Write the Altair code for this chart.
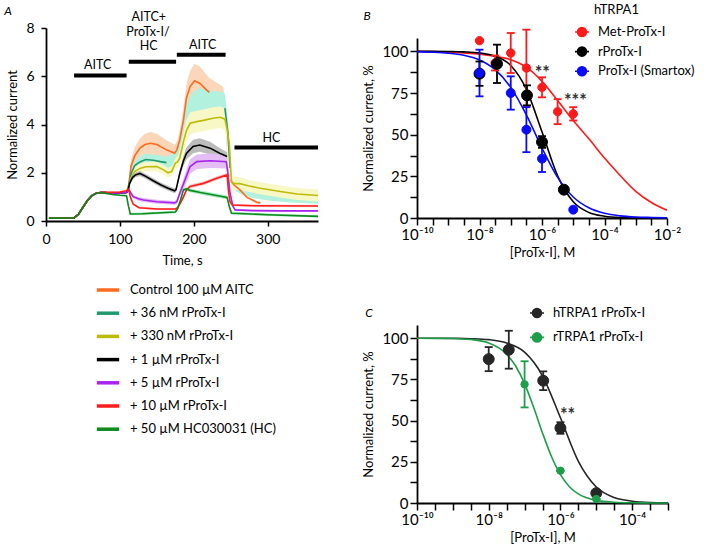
import altair as alt
import pandas as pd

FONT = "Lato"

# ---------------- Panel A : current traces ----------------
SERIES_A = ["Control 100 µM AITC", "+ 36 nM rProTx-I", "+ 330 nM rProTx-I", "+ 1 µM rProTx-I",
            "+ 5 µM rProTx-I", "+ 10 µM rProTx-I", "+ 50 µM HC030031 (HC)"]
LINE_COLORS_A = ["#ff6a1f", "#1f9a6c", "#bdbb0a", "#000000", "#a924ee", "#ff1c1c", "#0c8a1a"]
BAND_COLORS_A = ["#fbd6b8", "#b2f1de", "#f8f8c6", "#bcbcbc", "#e3bdf3", "#f9c9c9", "#a9ecca"]

T_CTRL = [4, 38, 44, 50, 56, 62, 68, 74, 80, 90, 100, 109, 112, 115, 120, 127, 134, 141, 150, 163, 174,
          177, 181, 186, 190, 195, 201, 208, 215, 221, 230, 240, 243, 246, 250, 254, 262, 272, 285, 290]
V_CTRL = [0.12, 0.13, 0.28, 0.57, 0.85, 1.05, 1.15, 1.18, 1.18, 1.15, 1.16, 1.2, 1.5, 2.26, 2.7, 3.02, 3.17,
          3.22, 3.17, 2.95, 2.81, 2.95, 3.36, 4.19, 5.09, 5.58, 5.81, 5.71, 5.5, 5.33, 5.2, 5.05, 4.2, 2.2,
          1.7, 1.5, 1.3, 0.98, 0.78, 0.75]
E_CTRL = [0.03, 0.03, 0.03, 0.03, 0.03, 0.03, 0.03, 0.03, 0.03, 0.03, 0.03, 0.03, 0.1, 0.3, 0.35, 0.4, 0.45,
          0.47, 0.45, 0.4, 0.35, 0.35, 0.4, 0.5, 0.6, 0.65, 0.7, 0.7, 0.65, 0.6, 0.55, 0.5, 0.4, 0.2, 0.05,
          0.05, 0.05, 0.05, 0.05, 0.05]

T_36 = [4, 38, 44, 50, 56, 62, 68, 74, 80, 90, 100, 109, 112, 115, 120, 127, 135, 145, 155, 163, 170, 175,
        178, 181, 186, 190, 195, 201, 207, 215, 225, 236, 242, 246, 249, 252, 256, 265, 280, 300, 330, 368]
V_36 = [0.12, 0.13, 0.28, 0.57, 0.85, 1.05, 1.15, 1.18, 1.18, 1.15, 1.16, 1.18, 1.45, 1.95, 2.3, 2.45, 2.55,
        2.52, 2.46, 2.42, 2.5, 2.6, 2.8, 3.3, 3.9, 4.3, 4.6, 4.75, 4.85, 4.8, 4.75, 4.72, 4.68, 3.7, 2.2, 1.6,
        1.45, 1.3, 1.15, 1.05, 0.97, 0.92]
E_36 = [0.03, 0.03, 0.03, 0.03, 0.03, 0.03, 0.03, 0.03, 0.03, 0.03, 0.03, 0.03, 0.05, 0.15, 0.2, 0.22, 0.25,
        0.25, 0.25, 0.25, 0.25, 0.25, 0.3, 0.4, 0.5, 0.55, 0.6, 0.65, 0.65, 0.65, 0.65, 0.65, 0.6, 0.5, 0.3,
        0.2, 0.2, 0.2, 0.2, 0.2, 0.2, 0.2]

T_330 = [4, 38, 44, 50, 56, 62, 68, 74, 80, 90, 100, 109, 112, 115, 120, 127, 135, 150, 159, 165, 170, 175,
         178, 181, 186, 190, 195, 204, 213, 226, 236, 242, 245, 248, 251, 255, 262, 275, 290, 317, 340, 368]
V_330 = [0.12, 0.13, 0.28, 0.57, 0.85, 1.05, 1.15, 1.18, 1.18, 1.15, 1.16, 1.18, 1.4, 1.8, 2.05, 2.18, 2.25,
         2.26, 2.12, 2.0, 2.05, 2.4, 2.45, 2.6, 3.3, 3.75, 4.05, 4.12, 4.17, 4.26, 4.3, 4.22, 3.8, 3.2, 1.6,
         1.55, 1.55, 1.45, 1.36, 1.22, 1.12, 1.06]
E_330 = [0.03, 0.03, 0.03, 0.03, 0.03, 0.03, 0.03, 0.03, 0.03, 0.03, 0.03, 0.03, 0.05, 0.12, 0.18, 0.2, 0.2,
         0.2, 0.2, 0.2, 0.2, 0.2, 0.25, 0.3, 0.4, 0.45, 0.45, 0.45, 0.45, 0.45, 0.45, 0.45, 0.45, 0.4, 0.3,
         0.28, 0.27, 0.25, 0.25, 0.25, 0.25, 0.25]

T_1 = [4, 38, 44, 50, 56, 62, 68, 74, 80, 90, 100, 109, 111, 113, 117, 121, 127, 135, 145, 155, 165, 174,
       176, 181, 186, 190, 199, 208, 222, 235, 245]
V_1 = [0.12, 0.13, 0.28, 0.57, 0.85, 1.05, 1.15, 1.18, 1.18, 1.15, 1.16, 1.18, 1.25, 1.55, 1.8, 1.91, 1.97,
       1.85, 1.67, 1.5, 1.36, 1.25, 1.3, 1.98, 2.5, 2.8, 3.09, 3.15, 3.02, 2.81, 2.67]
E_1 = [0.03, 0.03, 0.03, 0.03, 0.03, 0.03, 0.03, 0.03, 0.03, 0.03, 0.03, 0.03, 0.05, 0.08, 0.1, 0.1, 0.1,
       0.1, 0.1, 0.1, 0.1, 0.1, 0.1, 0.15, 0.2, 0.25, 0.28, 0.28, 0.26, 0.22, 0.18]

T_5 = [4, 38, 44, 50, 56, 62, 68, 74, 80, 90, 100, 109, 112, 115, 118, 125, 132, 150, 174, 177, 181, 188,
       195, 204, 222, 244, 246, 249, 253, 256, 280, 320, 368]
V_5 = [0.12, 0.13, 0.28, 0.57, 0.85, 1.05, 1.15, 1.18, 1.18, 1.15, 1.16, 1.18, 1.3, 1.15, 1.01, 0.92, 0.87,
       0.8, 0.75, 0.8, 1.15, 1.7, 2.26, 2.46, 2.5, 2.46, 2.0, 1.15, 0.6, 0.46, 0.43, 0.42, 0.42]
E_5 = [0.03, 0.03, 0.03, 0.03, 0.03, 0.03, 0.03, 0.03, 0.03, 0.03, 0.03, 0.03, 0.05, 0.06, 0.07, 0.08, 0.08,
       0.08, 0.08, 0.1, 0.15, 0.25, 0.3, 0.3, 0.3, 0.28, 0.2, 0.1, 0.05, 0.04, 0.04, 0.04, 0.04]

T_10 = [4, 38, 44, 50, 56, 62, 68, 74, 80, 90, 100, 109, 112, 114, 118, 126, 150, 175, 178, 182, 186, 190,
        195, 213, 231, 245, 247, 249, 252, 280, 368]
V_10 = [0.12, 0.13, 0.28, 0.57, 0.85, 1.05, 1.15, 1.18, 1.19, 1.19, 1.2, 1.25, 1.32, 1.0, 0.7, 0.55, 0.5,
        0.5, 0.55, 0.75, 1.0, 1.29, 1.43, 1.56, 1.77, 1.91, 1.2, 0.8, 0.66, 0.63, 0.62]
E_10 = [0.03, 0.03, 0.03, 0.03, 0.03, 0.03, 0.03, 0.03, 0.03, 0.03, 0.03, 0.03, 0.04, 0.04, 0.04, 0.04, 0.04,
        0.04, 0.05, 0.06, 0.08, 0.08, 0.08, 0.08, 0.08, 0.08, 0.05, 0.05, 0.05, 0.05, 0.05]

T_HC = [4, 38, 44, 50, 56, 62, 68, 74, 80, 90, 100, 109, 111, 114, 130, 150, 175, 178, 182, 186, 190, 195,
        209, 227, 245, 248, 251, 262, 300, 368]
V_HC = [0.12, 0.13, 0.28, 0.57, 0.85, 1.05, 1.15, 1.18, 1.15, 1.1, 1.07, 1.05, 0.7, 0.29, 0.3, 0.33, 0.37,
        0.5, 0.87, 1.29, 1.33, 1.27, 1.18, 1.08, 0.98, 0.6, 0.32, 0.31, 0.26, 0.19]
E_HC = [0.03, 0.03, 0.03, 0.03, 0.03, 0.03, 0.03, 0.03, 0.03, 0.03, 0.03, 0.03, 0.04, 0.05, 0.05, 0.05, 0.05,
        0.06, 0.07, 0.08, 0.08, 0.08, 0.08, 0.08, 0.08, 0.06, 0.05, 0.05, 0.05, 0.05]

TRACES = [(T_CTRL, V_CTRL, E_CTRL), (T_36, V_36, E_36), (T_330, V_330, E_330), (T_1, V_1, E_1),
          (T_5, V_5, E_5), (T_10, V_10, E_10), (T_HC, V_HC, E_HC)]
# time windows where the mean trace is not drawn (only the band shows)
HIDDEN_A = {0: [(222, 249), (291, 999)], 1: [(164, 236), (252, 999)]}

BAR_START = [38, 112, 177, 255]
BAR_END = [109, 176, 243, 368]
BAR_LEVEL = [6.03, 6.6, 6.89, 3.05]
LABEL_TEXT = ["AITC", "AITC+", "ProTx-I/", "HC", "AITC", "HC"]
LABEL_T = [70, 139, 138, 139, 212, 305]
LABEL_V = [6.47, 8.46, 7.85, 7.24, 7.3, 3.46]

# ---------------- Panel B : hTRPA1 dose-response ----------------
SERIES_B = ["Met-ProTx-I", "rProTx-I", "ProTx-I (Smartox)"]
COLORS_B = ["#ff1a1a", "#000000", "#0a0aff"]
MET_X = [-8, -7.5, -7, -6.5, -6, -5.5, -5]
MET_Y = [106.4, 93, 99, 90, 78.4, 63.8, 62.5]
MET_E = [0, 4.5, 12, 23, 6, 7.5, 4]
RPRO_X = [-8, -7.44, -6.48, -6, -5.3]
RPRO_Y = [86.6, 92.5, 73.6, 45.6, 17]
RPRO_E = [7.3, 11.5, 6, 3.5, 1.5]
SMART_X = [-8, -7, -6.5, -6, -5]
SMART_Y = [87, 75, 53, 35.6, 5]
SMART_E = [14, 10, 13.5, 8, 0]
FIT_X_B = [-10, -9.5, -9, -8.5, -8, -7.5, -7, -6.5, -6, -5.5, -5, -4.5, -4, -3.5, -3, -2.5, -2]
FIT_MET = [100, 99.8, 99.5, 99.0, 98.3, 97.0, 95.0, 90.5, 82.0, 70.5, 58.5, 47.5, 36.0, 25.5, 16.0, 9.3, 4.6]
FIT_RPRO = [100, 100, 99.9, 99.7, 99.1, 97.1, 91.5, 77.2, 51.7, 25.3, 9.7, 3.3, 1.1, 0.3, 0.1, 0.0, 0.0]
FIT_SMART = [99.8, 99.5, 98.9, 97.6, 94.8, 89.0, 78.4, 61.9, 42.0, 24.4, 12.6, 6.1, 2.8, 1.3, 0.6, 0.3, 0.1]
STAR_TEXT_B = ["**", "***"]
STAR_X_B = [-5.99, -4.93]
STAR_Y_B = [89.5, 72.5]

# ---------------- Panel C : human vs rat TRPA1 ----------------
SERIES_C = ["hTRPA1 rProTx-I", "rTRPA1 rProTx-I"]
COLORS_C = ["#262626", "#1f9e4a"]
H_X = [-8, -7.44, -6.48, -6, -5]
H_Y = [87.3, 93, 74.2, 45.5, 6]
H_E = [7.3, 11.5, 5.7, 3.5, 0]
RT_X = [-7, -6, -5]
RT_Y = [72, 19.6, 2.4]
RT_E = [14, 0, 0]
FIT_X_H = [-10, -9.5, -9, -8.5, -8, -7.5, -7, -6.5, -6, -5.5, -5, -4.5, -4, -3.5, -3]
FIT_H = [100, 100, 99.9, 99.7, 99.1, 97.1, 91.5, 77.2, 51.7, 25.3, 9.7, 3.3, 1.1, 0.3, 0.1]
FIT_X_RT = [-10, -9.5, -9, -8.5, -8, -7.5, -7.25, -7, -6.75, -6.5, -6.25, -6, -5.75, -5.5, -5, -4.5, -4,
            -3.5, -3]
FIT_RT = [100, 99.9, 99.8, 99.2, 97.1, 90.3, 83.1, 72.4, 58.2, 42.5, 28.2, 17.2, 9.9, 5.5, 1.6, 0.5, 0.15,
          0.04, 0.0]
STAR_TEXT_C = ["**"]
STAR_X_C = [-5.8]
STAR_Y_C = [55.9]

# ======================= build tables =======================
band_rows, line_rows = [], []
for i, (ts, vs, es) in enumerate(TRACES):
    name = SERIES_A[i]
    seg, was_hidden = 0, False
    for t, v, e in zip(ts, vs, es):
        band_rows.append({"series": name, "col": BAND_COLORS_A[i], "t": t, "lo": v - e, "hi": v + e})
        hidden = any(a <= t <= b for a, b in HIDDEN_A.get(i, []))
        if hidden:
            was_hidden = True
            continue
        if was_hidden:
            seg += 1
            was_hidden = False
        line_rows.append({"series": name, "t": t, "v": v, "seg": f"{i}-{seg}"})
band_df = pd.DataFrame(band_rows)
line_df = pd.DataFrame(line_rows)
bar_df = pd.DataFrame({"start": BAR_START, "end": BAR_END, "level": BAR_LEVEL})
lab_df = pd.DataFrame({"text": LABEL_TEXT, "t": LABEL_T, "v": LABEL_V})
one = pd.DataFrame({"k": [0]})


def pts(series, col, xs, ys, es):
    return pd.DataFrame({"series": series, "col": col, "x": xs, "y": ys,
                         "lo": [y - e for y, e in zip(ys, es)], "hi": [y + e for y, e in zip(ys, es)]})


def fit(series, col, xs, ys):
    return pd.DataFrame({"series": series, "col": col, "x": xs, "y": ys})


pts_b = pd.concat([pts(SERIES_B[0], COLORS_B[0], MET_X, MET_Y, MET_E),
                   pts(SERIES_B[1], COLORS_B[1], RPRO_X, RPRO_Y, RPRO_E),
                   pts(SERIES_B[2], COLORS_B[2], SMART_X, SMART_Y, SMART_E)], ignore_index=True)
fit_b = pd.concat([fit(SERIES_B[0], COLORS_B[0], FIT_X_B, FIT_MET),
                   fit(SERIES_B[1], COLORS_B[1], FIT_X_B, FIT_RPRO),
                   fit(SERIES_B[2], COLORS_B[2], FIT_X_B, FIT_SMART)], ignore_index=True)
stars_b = pd.DataFrame({"text": STAR_TEXT_B, "x": STAR_X_B, "y": STAR_Y_B})

pts_c = pd.concat([pts(SERIES_C[0], COLORS_C[0], H_X, H_Y, H_E),
                   pts(SERIES_C[1], COLORS_C[1], RT_X, RT_Y, RT_E)], ignore_index=True)
fit_c = pd.concat([fit(SERIES_C[0], COLORS_C[0], FIT_X_H, FIT_H),
                   fit(SERIES_C[1], COLORS_C[1], FIT_X_RT, FIT_RT)], ignore_index=True)
stars_c = pd.DataFrame({"text": STAR_TEXT_C, "x": STAR_X_C, "y": STAR_Y_C})

# ======================= Panel A =======================
AX_A_X = alt.Axis(values=[0, 100, 200, 300], title="Time, s", labelFontSize=14, titleFontSize=13,
                  tickSize=5, labelPadding=6, titlePadding=8, labelFlush=False, labelOverlap=False)
AX_A_Y = alt.Axis(values=[0, 2, 4, 6, 8], title="Normalized current", labelFontSize=14, titleFontSize=13,
                  tickSize=5, labelPadding=7, titlePadding=6, labelOverlap=False)
SC_AX = alt.Scale(domain=[0, 368], nice=False, zero=False)
SC_AY = alt.Scale(domain=[0, 8], nice=False)


def ax(f):
    return alt.X(f"{f}:Q", scale=SC_AX, axis=AX_A_X)


def ay(f):
    return alt.Y(f"{f}:Q", scale=SC_AY, axis=AX_A_Y)


legend_a = alt.Legend(orient="none", legendX=49, legendY=249, title=None, direction="vertical",
                      symbolType="stroke", symbolStrokeWidth=3.5, symbolSize=500, labelFontSize=13,
                      labelColor="black", labelOffset=9, rowPadding=3.2)

bands = alt.Chart(band_df).mark_area(opacity=1).encode(
    x=ax("t"), y=ay("lo"), y2="hi:Q", fill=alt.Fill("col:N", scale=None), detail="series:N")
lines = alt.Chart(line_df).mark_line(strokeWidth=1.6).encode(
    x=ax("t"), y=ay("v"),
    stroke=alt.Stroke("series:N", scale=alt.Scale(domain=SERIES_A, range=LINE_COLORS_A), legend=legend_a),
    detail="seg:N")
bars = alt.Chart(bar_df).mark_rule(strokeWidth=4, color="black").encode(
    x=ax("start"), x2="end:Q", y=ay("level"))
labels_a = alt.Chart(lab_df).mark_text(fontSize=12.5, color="black").encode(
    x=ax("t"), y=ay("v"), text="text:N")
letter_a = alt.Chart(one).mark_text(fontSize=12, fontStyle="italic", color="black").encode(
    x=alt.value(-38), y=alt.value(-17), text=alt.value("A"))
panel_a = alt.layer(bands, lines, bars, labels_a, letter_a).properties(width=272, height=193)

# ======================= Panels B & C =======================
SUP = {-10: "10\u207b\u00b9\u2070", -8: "10\u207b\u2078", -6: "10\u207b\u2076", -4: "10\u207b\u2074",
       -2: "10\u207b\u00b2"}
LABEL_EXPR = " : ".join(f"datum.value == {k} ? '{v}'" for k, v in SUP.items()) + " : ''"
LEG_PATH = "M-1,0L1,0M0.64,0A0.64,0.64,0,1,1,-0.64,0A0.64,0.64,0,1,1,0.64,0Z"


def dose_panel(pts_df, fit_df, stars_df, series, colors, xmax, width, height, sizes, legx, legy, rowpad,
               letter, letter_xy, extra=None):
    ticks = [-10 + 0.5 * i for i in range(int((xmax + 10) * 2) + 1)]
    axx = alt.Axis(values=ticks, labelExpr=LABEL_EXPR, title="[ProTx-I], M", labelFontSize=15,
                   titleFontSize=13, tickSize=7, labelPadding=2, titlePadding=4, labelFlush=False,
                   labelOverlap=False)
    axy = alt.Axis(values=[12.5 * i for i in range(9)], labelExpr="datum.value % 25 == 0 ? datum.label : ''",
                   title="Normalized current, %", labelFontSize=15, titleFontSize=13, tickSize=7,
                   labelPadding=2, titlePadding=6, labelOverlap=False)
    scx = alt.Scale(domain=[-10, xmax], nice=False, zero=False)
    scy = alt.Scale(domain=[0, 108], nice=False)

    def X(f):
        return alt.X(f"{f}:Q", scale=scx, axis=axx)

    def Y(f):
        return alt.Y(f"{f}:Q", scale=scy, axis=axy)

    csc = alt.Scale(domain=series, range=colors)
    leg = alt.Legend(orient="none", legendX=legx, legendY=legy, title=None, direction="vertical",
                     symbolType=LEG_PATH, symbolSize=196, symbolStrokeWidth=1.6, labelFontSize=13,
                     labelColor="black", labelOffset=8, rowPadding=rowpad)
    col = alt.Color("col:N", scale=None)
    layers = [
        alt.Chart(fit_df).mark_line(strokeWidth=1.6, interpolate="monotone").encode(
            x=X("x"), y=Y("y"), color=col, detail="series:N"),
        alt.Chart(pts_df).mark_rule(strokeWidth=1.8).encode(x=X("x"), y=Y("lo"), y2="hi:Q", color=col),
        alt.Chart(pts_df).mark_tick(orient="horizontal", size=8, thickness=1.8, opacity=1).encode(
            x=X("x"), y=Y("lo"), color=col),
        alt.Chart(pts_df).mark_tick(orient="horizontal", size=8, thickness=1.8, opacity=1).encode(
            x=X("x"), y=Y("hi"), color=col),
    ]
    for name, size in zip(series, sizes):
        layers.append(alt.Chart(pts_df).transform_filter(alt.datum.series == name).mark_point(
            filled=True, size=size, opacity=1, strokeWidth=1).encode(
            x=X("x"), y=Y("y"),
            fill=alt.Fill("series:N", scale=csc, legend=leg),
            stroke=alt.Stroke("series:N", scale=csc, legend=leg)))
    layers.append(alt.Chart(stars_df).mark_text(fontSize=18, fontWeight="bold", color="#333333", dy=5).encode(
        x=X("x"), y=Y("y"), text="text:N"))
    layers.append(alt.Chart(one).mark_text(fontSize=12, fontStyle="italic", color="black").encode(
        x=alt.value(letter_xy[0]), y=alt.value(letter_xy[1]), text=alt.value(letter)))
    if extra is not None:
        layers.append(extra)
    return alt.layer(*layers).properties(width=width, height=height)


title_b = alt.Chart(one).mark_text(fontSize=13, align="left", color="black").encode(
    x=alt.value(177), y=alt.value(-28), text=alt.value("hTRPA1"))
panel_b = dose_panel(pts_b, fit_b, stars_b, SERIES_B, COLORS_B, -2, 250, 180, [70, 120, 80],
                     157, -14, 3.6, "B", (-50, -22), extra=title_b)
panel_c = dose_panel(pts_c, fit_c, stars_c, SERIES_C, COLORS_C, -3, 251, 178, [120, 55],
                     112, -20, 8.4, "C", (-48, -12))


def spacer(h):
    return alt.Chart(one).mark_point(opacity=0).encode(
        x=alt.X("k:Q", axis=None), y=alt.Y("k:Q", axis=None)).properties(width=250, height=h)


IND = dict(color="independent", fill="independent", stroke="independent")
right = alt.vconcat(spacer(10), panel_b, spacer(107), panel_c, spacing=0, bounds="flush").resolve_scale(
    **IND).resolve_legend(**IND)
chart = alt.hconcat(panel_a, right, spacing=99, bounds="flush",
                    padding={"left": 4, "top": 4, "right": 5, "bottom": 3}).resolve_scale(
    **IND).resolve_legend(**IND).configure_view(
    stroke=None).configure_axis(
    domainColor="black", domainWidth=1.8, tickColor="black", tickWidth=1.5, labelColor="black",
    titleColor="black", labelFont=FONT, titleFont=FONT, titleFontWeight="normal", grid=False).configure_text(
    font=FONT).configure_legend(labelFont=FONT)

chart.save("out.html", embed_options={"renderer": "svg", "actions": False})
